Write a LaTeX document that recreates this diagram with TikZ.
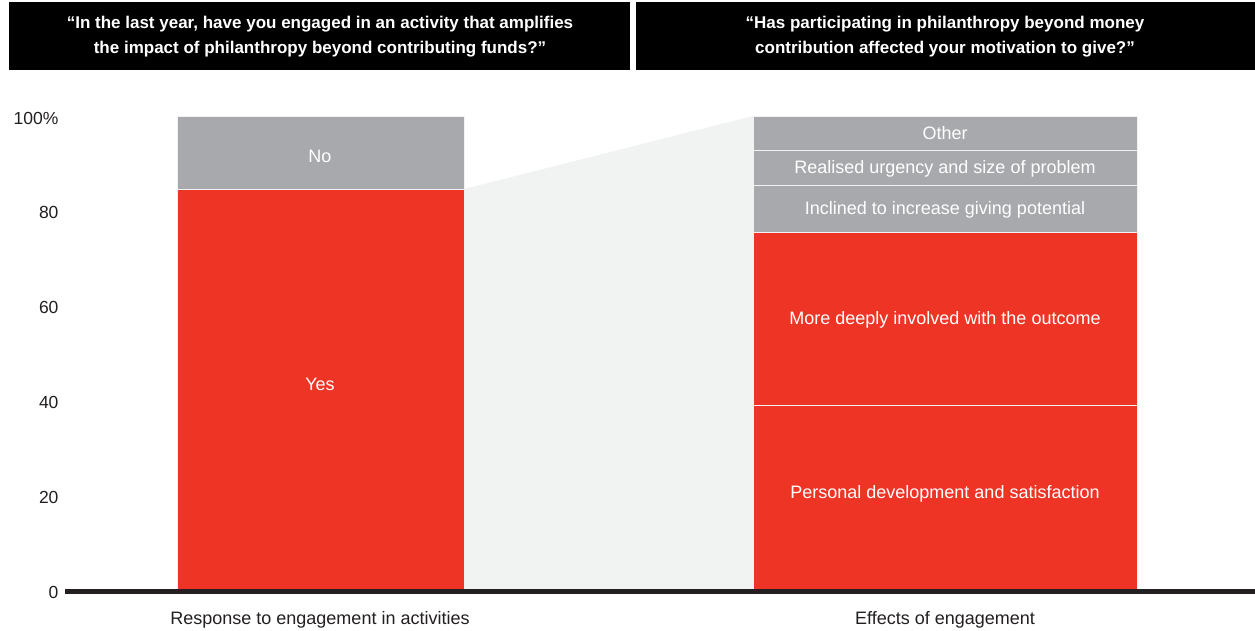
\documentclass[tikz,border=0pt]{standalone}
\usepackage{fontspec}
\setmainfont{Liberation Sans}
\definecolor{barred}{HTML}{EE3424}
\definecolor{bargrey}{HTML}{A7A9AC}
\definecolor{wedgegrey}{HTML}{F1F2F2}
\definecolor{inkdark}{HTML}{231F20}
\tikzset{
  seg/.style={draw=white!85!bargrey,line width=0.8pt},
  headbox/.style={fill=black,draw=none},
  headtxt/.style={text=white,align=center,yshift=-2pt,font=\fontsize{17}{25}\selectfont\bfseries},
  segtxt/.style={text=white,yshift=-1.5pt,font=\fontsize{18}{20}\selectfont},
  ticktxt/.style={text=inkdark,anchor=east,yshift=-1pt,font=\fontsize{17.5}{20}\selectfont},
  cattxt/.style={text=inkdark,yshift=-2.5pt,font=\fontsize{18}{20}\selectfont}
}

\begin{document}
\begin{tikzpicture}[x=1pt,y=-1pt]
  \useasboundingbox (0,0) rectangle (1255,631);
  % headers
  \fill[headbox] (9,2) rectangle (630,70);
  \fill[headbox] (636,2) rectangle (1255,70);
  \node[headtxt] (qleft) at (320,35) {“In the last year, have you engaged in an activity that amplifies\\the impact of philanthropy beyond contributing funds?”};
  \node[headtxt] (qright) at (945,35) {“Has participating in philanthropy beyond money\\contribution affected your motivation to give?”};
  % wedge
  \fill[wedgegrey] (464,189) -- (753,116) -- (753,591) -- (464,591) -- cycle;
  % left bar
  \filldraw[seg,fill=barred] (177,189) rectangle (464,591);
  \filldraw[seg,fill=bargrey] (177,116) rectangle (464,189);
  \node[segtxt] (yes) at (320,383) {Yes};
  \node[segtxt] (no) at (320,155) {No};
  % right bar
  \filldraw[seg,fill=barred] (753,405) rectangle (1137,591);
  \filldraw[seg,fill=barred] (753,232) rectangle (1137,405);
  \filldraw[seg,fill=bargrey] (753,185) rectangle (1137,232);
  \filldraw[seg,fill=bargrey] (753,150) rectangle (1137,185);
  \filldraw[seg,fill=bargrey] (753,116) rectangle (1137,150);
  \node[segtxt] (pers) at (945,492) {Personal development and satisfaction};
  \node[segtxt] (deep) at (945,318) {More deeply involved with the outcome};
  \node[segtxt] (incl) at (945,208) {Inclined to increase giving potential};
  \node[segtxt] (real) at (945,167) {Realised urgency and size of problem};
  \node[segtxt] (other) at (945,132) {Other};
  % axis
  \draw[inkdark,line width=5pt] (65,591) -- (1255,591);
  \foreach \v/\t in {0/0,20/20,40/40,60/60,80/80,100/100\%}
    \node[ticktxt] (tick\v) at (62,591-4.74*\v) {\t};
  \node[cattxt] (catleft) at (320,617) {Response to engagement in activities};
  \node[cattxt] (catright) at (945,617) {Effects of engagement};
\end{tikzpicture}
\end{document}
